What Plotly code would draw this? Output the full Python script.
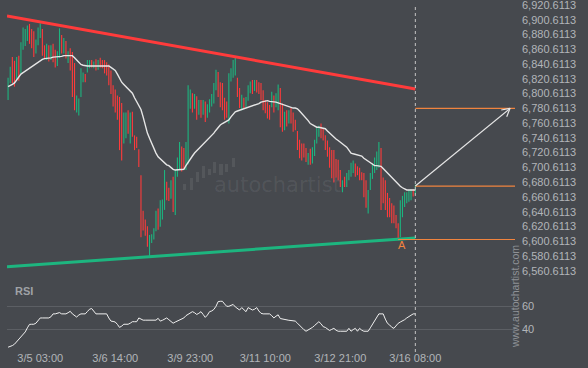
import math
import plotly.graph_objects as go

# ---------------- data ----------------
open_ = [6800, 6818, 6846, 6835, 6822, 6846, 6830, 6864, 6868, 6875,
         6890, 6884, 6872, 6858, 6868, 6880, 6886, 6860, 6850, 6862,
         6848, 6862, 6850, 6840, 6852, 6876, 6858, 6870, 6846, 6856,
         6850, 6815, 6778, 6776, 6797, 6818, 6826, 6830, 6836, 6845,
         6836, 6846, 6834, 6848, 6842, 6842, 6838, 6836, 6820, 6810,
         6800, 6790, 6790, 6760, 6735, 6745, 6775, 6740, 6772, 6742,
         6740, 6722, 6688, 6640, 6628, 6618, 6592, 6600, 6605, 6615,
         6640, 6625, 6640, 6650, 6680, 6672, 6660, 6685, 6640, 6690,
         6700, 6728, 6722, 6705, 6720, 6795, 6800, 6785, 6795, 6775,
         6790, 6776, 6788, 6770, 6780, 6786, 6790, 6808, 6828, 6810,
         6805, 6790, 6785, 6765, 6822, 6828, 6830, 6820, 6805, 6782,
         6793, 6785, 6792, 6803, 6818, 6805, 6815, 6810, 6812, 6800,
         6790, 6785, 6782, 6783, 6795, 6784, 6785, 6805, 6780, 6753,
         6775, 6762, 6780, 6770, 6762, 6748, 6735, 6730, 6728, 6725,
         6705, 6722, 6708, 6718, 6735, 6745, 6758, 6752, 6742, 6735,
         6725, 6715, 6710, 6705, 6700, 6690, 6668, 6683, 6676, 6685,
         6690, 6700, 6705, 6700, 6698, 6692, 6690, 6675, 6640, 6670,
         6688, 6700, 6705, 6710, 6725, 6672, 6670, 6660, 6652, 6648,
         6645, 6635, 6620, 6608, 6648, 6652, 6658, 6660, 6662, 6670,
         6664]
high_ = [6822, 6837, 6850, 6845, 6850, 6852, 6870, 6890, 6888, 6893,
         6895, 6888, 6885, 6874, 6890, 6896, 6888, 6866, 6868, 6866,
         6866, 6868, 6860, 6858, 6889, 6880, 6876, 6872, 6858, 6862,
         6857, 6842, 6798, 6794, 6835, 6829, 6827, 6846, 6846, 6846,
         6844, 6847, 6846, 6849, 6846, 6846, 6843, 6840, 6832, 6812,
         6806, 6798, 6796, 6788, 6775, 6775, 6778, 6775, 6776, 6744,
         6742, 6725, 6690, 6642, 6630, 6621, 6609, 6610, 6618, 6642,
         6645, 6656, 6657, 6697, 6681, 6673, 6683, 6688, 6697, 6714,
         6735, 6729, 6727, 6735, 6812, 6806, 6801, 6800, 6797, 6792,
         6792, 6792, 6790, 6786, 6793, 6800, 6815, 6833, 6830, 6816,
         6815, 6795, 6790, 6828, 6835, 6846, 6849, 6822, 6808, 6799,
         6795, 6796, 6812, 6817, 6819, 6819, 6819, 6816, 6815, 6805,
         6792, 6789, 6785, 6803, 6798, 6801, 6813, 6808, 6787, 6776,
         6778, 6778, 6781, 6775, 6765, 6750, 6738, 6733, 6733, 6727,
         6720, 6726, 6728, 6738, 6755, 6757, 6760, 6754, 6744, 6737,
         6728, 6724, 6724, 6712, 6711, 6697, 6683, 6688, 6693, 6697,
         6707, 6710, 6706, 6702, 6700, 6694, 6693, 6683, 6670, 6693,
         6706, 6714, 6722, 6735, 6727, 6687, 6683, 6666, 6659, 6652,
         6649, 6636, 6625, 6656, 6662, 6667, 6667, 6670, 6671, 6671,
         6677]
low_ = [6792, 6815, 6815, 6810, 6820, 6818, 6828, 6860, 6865, 6872,
        6868, 6862, 6850, 6855, 6866, 6876, 6852, 6848, 6846, 6844,
        6846, 6843, 6836, 6838, 6849, 6855, 6855, 6848, 6842, 6832,
        6796, 6778, 6775, 6771, 6796, 6816, 6816, 6829, 6835, 6836,
        6835, 6832, 6833, 6836, 6835, 6828, 6825, 6812, 6800, 6783,
        6775, 6765, 6724, 6710, 6733, 6740, 6746, 6733, 6742, 6724,
        6727, 6701, 6606, 6615, 6608, 6593, 6579, 6598, 6603, 6614,
        6616, 6620, 6630, 6643, 6656, 6655, 6658, 6640, 6636, 6688,
        6698, 6695, 6698, 6697, 6705, 6780, 6775, 6780, 6765, 6772,
        6768, 6772, 6762, 6768, 6775, 6783, 6787, 6805, 6796, 6782,
        6778, 6765, 6768, 6760, 6817, 6822, 6825, 6796, 6781, 6778,
        6781, 6782, 6791, 6801, 6800, 6804, 6802, 6800, 6792, 6778,
        6774, 6767, 6765, 6782, 6775, 6782, 6778, 6755, 6749, 6751,
        6756, 6760, 6760, 6749, 6751, 6724, 6713, 6710, 6714, 6708,
        6704, 6704, 6706, 6716, 6733, 6742, 6740, 6737, 6724, 6715,
        6700, 6686, 6680, 6687, 6683, 6674, 6667, 6674, 6674, 6683,
        6688, 6693, 6688, 6690, 6683, 6683, 6660, 6646, 6638, 6670,
        6685, 6693, 6697, 6700, 6643, 6652, 6643, 6633, 6633, 6625,
        6625, 6618, 6602, 6606, 6633, 6647, 6652, 6654, 6656, 6661,
        6663]
close_ = [6818, 6832, 6820, 6812, 6846, 6828, 6866, 6886, 6882, 6890,
          6876, 6864, 6855, 6870, 6884, 6893, 6856, 6850, 6864, 6848,
          6860, 6846, 6840, 6854, 6880, 6858, 6872, 6852, 6855, 6836,
          6800, 6782, 6795, 6790, 6830, 6828, 6818, 6843, 6845, 6838,
          6843, 6833, 6843, 6838, 6836, 6830, 6826, 6815, 6802, 6786,
          6780, 6768, 6735, 6720, 6770, 6772, 6752, 6770, 6750, 6725,
          6730, 6703, 6610, 6618, 6612, 6600, 6608, 6607, 6615, 6640,
          6625, 6652, 6655, 6690, 6660, 6658, 6680, 6645, 6690, 6710,
          6730, 6705, 6700, 6730, 6810, 6805, 6785, 6798, 6770, 6790,
          6775, 6790, 6768, 6782, 6790, 6798, 6808, 6830, 6802, 6785,
          6785, 6770, 6770, 6825, 6832, 6842, 6846, 6800, 6785, 6795,
          6785, 6793, 6810, 6815, 6805, 6815, 6806, 6802, 6795, 6782,
          6776, 6770, 6768, 6798, 6780, 6796, 6808, 6760, 6752, 6772,
          6760, 6775, 6762, 6752, 6753, 6725, 6715, 6712, 6715, 6710,
          6715, 6706, 6722, 6735, 6750, 6755, 6745, 6740, 6728, 6720,
          6705, 6695, 6685, 6690, 6685, 6675, 6680, 6676, 6690, 6695,
          6705, 6708, 6692, 6693, 6690, 6685, 6665, 6650, 6660, 6690,
          6702, 6712, 6720, 6730, 6650, 6655, 6648, 6635, 6638, 6630,
          6628, 6620, 6603, 6650, 6660, 6665, 6666, 6668, 6670, 6664,
          6675]
ma_ = [6810, 6811, 6813, 6815, 6819, 6824, 6827, 6829, 6831, 6834,
       6836, 6838, 6840, 6842, 6844, 6846, 6847, 6848, 6848, 6849,
       6849, 6850, 6850, 6851, 6851, 6851, 6852, 6852, 6852, 6853,
       6852, 6849, 6846, 6843, 6840, 6839, 6838, 6838, 6838, 6838,
       6838, 6838, 6838, 6838, 6839, 6839, 6839, 6838, 6836, 6834,
       6832, 6827, 6821, 6816, 6813, 6810, 6807, 6804, 6801, 6795,
       6790, 6785, 6779, 6769, 6758, 6747, 6740, 6733, 6726, 6720,
       6715, 6712, 6709, 6706, 6704, 6703, 6700, 6698, 6697, 6697,
       6697, 6698, 6698, 6703, 6708, 6712, 6716, 6720, 6723, 6726,
       6728, 6731, 6734, 6737, 6740, 6744, 6747, 6751, 6755, 6758,
       6760, 6762, 6763, 6765, 6769, 6773, 6776, 6777, 6778, 6779,
       6780, 6781, 6782, 6782, 6783, 6784, 6785, 6787, 6789, 6790,
       6790, 6791, 6790, 6790, 6789, 6789, 6788, 6787, 6786, 6785,
       6784, 6782, 6782, 6781, 6781, 6780, 6777, 6774, 6770, 6767,
       6764, 6760, 6758, 6757, 6755, 6755, 6754, 6754, 6753, 6750,
       6747, 6744, 6741, 6739, 6737, 6735, 6733, 6731, 6728, 6724,
       6720, 6719, 6718, 6717, 6716, 6716, 6713, 6711, 6708, 6706,
       6704, 6703, 6703, 6702, 6702, 6699, 6696, 6693, 6690, 6687,
       6684, 6680, 6677, 6675, 6673, 6671, 6670, 6670, 6670, 6670,
       6670]
rsi_ = [24.9, 25.5, 26.3, 27.5, 29.5, 31.5, 33.5, 35.5, 38.0, 41.5,
        44.5, 44.6, 44.6, 45.5, 48.0, 50.0, 50.0, 50.0, 50.0, 50.0,
        51.0, 53.5, 53.5, 54.0, 54.6, 53.5, 53.5, 53.5, 54.5, 55.7,
        53.5, 52.0, 50.8, 52.5, 53.5, 53.5, 53.5, 55.5, 57.5, 58.1,
        56.0, 53.5, 53.5, 53.5, 53.5, 53.5, 53.5, 50.0, 47.3, 47.0,
        46.5, 44.5, 41.9, 43.0, 44.6, 44.6, 44.6, 45.5, 46.8, 46.8,
        46.8, 50.0, 49.0, 48.1, 48.1, 48.1, 48.1, 48.1, 48.1, 48.1,
        49.7, 47.3, 48.0, 49.0, 50.0, 48.5, 47.0, 45.5, 46.5, 47.3,
        48.1, 49.0, 50.0, 52.0, 53.0, 54.5, 55.4, 54.5, 53.0, 54.0,
        55.4, 53.0, 50.5, 52.5, 55.4, 56.0, 57.3, 60.0, 64.0, 64.3,
        64.3, 62.0, 60.0, 60.0, 60.5, 61.6, 59.5, 58.0, 56.8, 58.9,
        57.0, 55.4, 58.9, 57.5, 56.8, 57.5, 58.9, 56.0, 54.0, 53.5,
        53.5, 53.5, 53.5, 52.0, 50.0, 51.5, 52.7, 49.5, 49.0, 48.5,
        48.1, 48.0, 47.8, 47.5, 47.3, 45.5, 43.5, 41.5, 40.0, 38.6,
        39.5, 40.8, 41.9, 43.5, 45.5, 46.8, 45.0, 42.5, 41.9, 40.5,
        39.2, 40.2, 41.1, 39.5, 38.6, 38.6, 38.6, 38.6, 38.6, 41.1,
        38.6, 40.0, 41.1, 38.6, 41.1, 39.5, 38.6, 38.6, 38.6, 41.5,
        44.5, 47.5, 50.5, 53.5, 53.5, 53.5, 49.0, 45.4, 44.0, 42.0,
        41.1, 43.5, 45.4, 46.5, 47.3, 48.5, 50.0, 51.0, 52.5, 53.5,
        53.5]

time_tick_index = [15, 50, 85, 120, 155, 190]
time_tick_text = ["3/5 03:00", "3/6 14:00", "3/9 23:00", "3/11 10:00", "3/12 21:00", "3/16 08:00"]
price_ticks = [6560.6113, 6580.6113, 6600.6113, 6620.6113, 6640.6113, 6660.6113,
               6680.6113, 6700.6113, 6720.6113, 6740.6113, 6760.6113, 6780.6113,
               6800.6113, 6820.6113, 6840.6113, 6860.6113, 6880.6113, 6900.6113, 6920.6113]
price_tick_text = ["6,560.6113", "6,580.6113", "6,600.6113", "6,620.6113", "6,640.6113",
                   "6,660.6113", "6,680.6113", "6,700.6113", "6,720.6113", "6,740.6113",
                   "6,760.6113", "6,780.6113", "6,800.6113", "6,820.6113", "6,840.6113",
                   "6,860.6113", "6,880.6113", "6,900.6113", "6,920.6113"]
rsi_ticks = [40, 60]

resistance_x = [-0.5, 190]
resistance_y = [6905.7, 6806.8]
support_x = [-0.5, 190]
support_y = [6566.0, 6604.9]

level_start = [190, 190, 182]
level_values = [6780.6, 6675.3, 6602.9]
arrow_x = [190, 234.2]
arrow_y = [6675.3, 6780.6]
pattern_point_x = 184
pattern_point_y = 6595.0
now_index = 190

# ---------------- layout constants ----------------
W, H = 588, 368
BG = "#46494e"
GREEN = "#1db57f"
RED = "#ff3b3b"
ORANGE = "#f0843f"
TXT = "#b2b5b9"
FONT = "Liberation Sans, Arial, sans-serif"

X_LEFT_PX, X_RIGHT_PX = 7, 515
MAIN_TOP_PX, MAIN_BOT_PX = 0, 280
RSI_TOP_PX, RSI_BOT_PX = 283, 350
x_range = [-0.5, 236.5]
y_range = [6548.0, 6927.4]
rsi_range = [22.5, 80.0]


def px_x(p):
    return p / W


def px_y(p):
    return 1 - p / H


idx = list(range(len(close_)))

fig = go.Figure()

fig.add_trace(go.Ohlc(
    x=idx, open=open_, high=high_, low=low_, close=close_,
    increasing=dict(line=dict(color=GREEN, width=1.1)),
    decreasing=dict(line=dict(color=RED, width=1.1)),
    tickwidth=0, showlegend=False, hoverinfo="skip",
    xaxis="x", yaxis="y"))

fig.add_trace(go.Scatter(x=idx, y=ma_, mode="lines",
                         line=dict(color="#e6e6e6", width=1.4),
                         showlegend=False, hoverinfo="skip", xaxis="x", yaxis="y"))

fig.add_trace(go.Scatter(x=resistance_x, y=resistance_y, mode="lines",
                         line=dict(color=RED, width=3), showlegend=False,
                         hoverinfo="skip", xaxis="x", yaxis="y"))
fig.add_trace(go.Scatter(x=support_x, y=support_y, mode="lines",
                         line=dict(color=GREEN, width=3), showlegend=False,
                         hoverinfo="skip", xaxis="x", yaxis="y"))

for xs, lv in zip(level_start, level_values):
    fig.add_trace(go.Scatter(x=[xs, x_range[1]], y=[lv, lv], mode="lines",
                             line=dict(color=ORANGE, width=1.2), showlegend=False,
                             hoverinfo="skip", xaxis="x", yaxis="y"))

# projection arrow
fig.add_trace(go.Scatter(x=arrow_x, y=arrow_y, mode="lines",
                         line=dict(color="#e6e6e6", width=1.2), showlegend=False,
                         hoverinfo="skip", xaxis="x", yaxis="y"))
ppx = (X_RIGHT_PX - X_LEFT_PX) / (x_range[1] - x_range[0])
ppy = (MAIN_BOT_PX - MAIN_TOP_PX) / (y_range[1] - y_range[0])
ddx = (arrow_x[1] - arrow_x[0]) * ppx
ddy = (arrow_y[1] - arrow_y[0]) * ppy
ang = math.atan2(ddy, ddx)
head_len = 9
hx, hy = [], []
for s in (1, -1):
    a = ang + math.pi + s * 0.5
    hx.append(arrow_x[1] + head_len * math.cos(a) / ppx)
    hy.append(arrow_y[1] + head_len * math.sin(a) / ppy)
fig.add_trace(go.Scatter(x=[hx[0], arrow_x[1], hx[1]], y=[hy[0], arrow_y[1], hy[1]],
                         mode="lines", line=dict(color="#e6e6e6", width=1.2),
                         showlegend=False, hoverinfo="skip", xaxis="x", yaxis="y"))

# RSI
fig.add_trace(go.Scatter(x=idx, y=rsi_, mode="lines",
                         line=dict(color="#f0f0f0", width=1), showlegend=False,
                         hoverinfo="skip", xaxis="x2", yaxis="y2"))

shapes = [
    dict(type="line", xref="x", yref="paper", x0=now_index, x1=now_index,
         y0=px_y(352), y1=px_y(4), line=dict(color="#c4c4c4", width=1, dash="3px,3px")),
]
# faint logo bars next to watermark
logo_bars = [(183, 186, 184, 190), (190, 193, 178, 190), (196, 199, 172, 182),
             (202, 205, 166, 178), (208, 211, 169, 175), (213, 216, 162, 173),
             (219, 223, 164, 175), (225, 228, 164, 172), (232, 235, 158, 167)]
for x0, x1, y0, y1 in logo_bars:
    shapes.append(dict(type="rect", xref="paper", yref="paper",
                       x0=px_x(x0), x1=px_x(x1), y0=px_y(y1), y1=px_y(y0),
                       line=dict(width=0), fillcolor="rgba(255,255,255,0.08)", layer="below"))

annotations = [
    dict(text="autochartist", xref="paper", yref="paper", x=px_x(277), y=px_y(185),
         showarrow=False, font=dict(family="DejaVu Sans, sans-serif", size=21,
                                    color="rgba(255,255,255,0.08)")),
    dict(text="A", xref="x", yref="y", x=pattern_point_x, y=pattern_point_y,
         showarrow=False, font=dict(family=FONT, size=11, color=ORANGE)),
    dict(text="<b>RSI</b>", xref="paper", yref="paper", x=px_x(13), y=px_y(291),
         xanchor="left", yanchor="middle", showarrow=False,
         font=dict(family=FONT, size=11, color="#9fa2a6")),
    dict(text="www.autochartist.com", xref="paper", yref="paper", x=px_x(515), y=px_y(297),
         textangle=-90, showarrow=False, xanchor="center", yanchor="middle",
         font=dict(family=FONT, size=10.5, color="#8e9196")),
]

axis_font = dict(family=FONT, size=11, color=TXT)
fig.update_layout(
    width=W, height=H, margin=dict(l=0, r=0, t=0, b=0, autoexpand=False),
    paper_bgcolor=BG, plot_bgcolor=BG, showlegend=False,
    xaxis=dict(domain=[px_x(X_LEFT_PX), px_x(X_RIGHT_PX)], range=x_range, anchor="y",
               showticklabels=False, showgrid=False, zeroline=False, showline=False,
               rangeslider=dict(visible=False), automargin=False),
    yaxis=dict(domain=[px_y(MAIN_BOT_PX), px_y(MAIN_TOP_PX)], range=y_range, anchor="x",
               side="right", tickvals=price_ticks, ticktext=price_tick_text,
               tickfont=axis_font, showgrid=False, zeroline=False, showline=False,
               ticks="", ticklabelstandoff=6, automargin=False, ticklabeloverflow="allow"),
    xaxis2=dict(domain=[px_x(X_LEFT_PX), px_x(X_RIGHT_PX)], range=x_range, anchor="y2",
                tickvals=time_tick_index, ticktext=time_tick_text, tickfont=axis_font,
                showgrid=False, zeroline=False, showline=False, ticks="", automargin=False,
                ticklabeloverflow="allow"),
    yaxis2=dict(domain=[px_y(RSI_BOT_PX), px_y(RSI_TOP_PX)], range=rsi_range, anchor="x2",
                side="right", tickvals=rsi_ticks, tickfont=axis_font,
                showgrid=True, gridcolor="#5c5f64", gridwidth=1, zeroline=False,
                showline=False, ticks="", ticklabelstandoff=6, automargin=False,
                ticklabeloverflow="allow"),
    shapes=shapes, annotations=annotations,
)

fig.write_html("out.html", config={"displayModeBar": False, "staticPlot": True},
               post_script="document.body.style.margin='0';document.body.style.overflow='hidden';")
